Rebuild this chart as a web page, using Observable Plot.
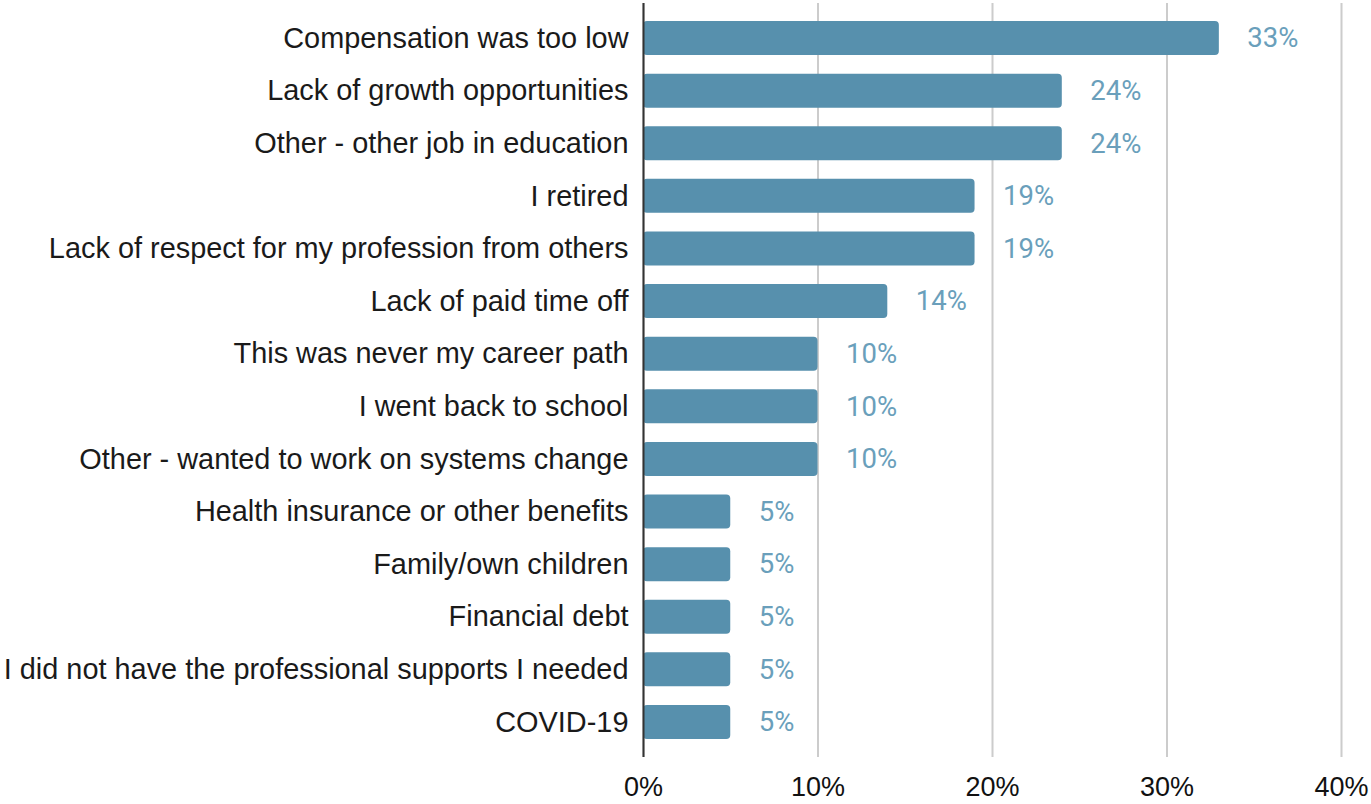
<!DOCTYPE html>
<html><head><meta charset="utf-8">
<script src="https://cdn.jsdelivr.net/npm/d3@7"></script>
<script src="https://cdn.jsdelivr.net/npm/@observablehq/plot@0.6"></script>
<style>body{margin:0;background:#fff;} svg{display:block;}</style>
</head><body><div id="chart"></div>
<script>
const categories = [
  "Compensation was too low",
  "Lack of growth opportunities",
  "Other - other job in education",
  "I retired",
  "Lack of respect for my profession from others",
  "Lack of paid time off",
  "This was never my career path",
  "I went back to school",
  "Other - wanted to work on systems change",
  "Health insurance or other benefits",
  "Family/own children",
  "Financial debt",
  "I did not have the professional supports I needed",
  "COVID-19"
];
const values = [0.33, 0.24, 0.24, 0.19, 0.19, 0.14, 0.10, 0.10, 0.10, 0.05, 0.05, 0.05, 0.05, 0.05];
const xTicks = [0, 0.1, 0.2, 0.3, 0.4];
const data = categories.map((c, i) => ({category: c, value: values[i]}));

const chart = Plot.plot({
  width: 1371,
  height: 804,
  marginLeft: 643,
  marginRight: 30,
  marginTop: 3,
  marginBottom: 47,
  style: {fontFamily: "'Liberation Sans', Arial, sans-serif", background: "#fff"},
  x: {domain: [0, 0.4], ticks: xTicks, tickFormat: d3.format(".0%")},
  y: {domain: categories, paddingInner: 0.354, paddingOuter: 0.343, round: false, label: null},
  marks: [
    Plot.gridX(xTicks, {stroke: "#cccccc", strokeOpacity: 1, strokeWidth: 2}),
    Plot.axisX({ticks: xTicks, tickFormat: d3.format(".0%"), tickSize: 0, tickPadding: 19, fontSize: 27, fill: "#111", label: null}),
    Plot.axisY({tickSize: 0, tickPadding: 15, fontSize: 28.9, fill: "#1a1a1a", label: null}),
    Plot.barX(data, {y: "category", x: "value", fill: "#5790ad", rx: 4}),
    Plot.ruleX([0], {stroke: "#333", strokeWidth: 2}),
    Plot.text(data, {y: "category", x: "value", text: d => d3.format(".0%")(d.value), textAnchor: "start", dx: 28, fill: "#6a9fbb", fontSize: 27.5, fontFamily: "Roboto, sans-serif"})
  ]
});
document.getElementById("chart").appendChild(chart);
</script></body></html>
